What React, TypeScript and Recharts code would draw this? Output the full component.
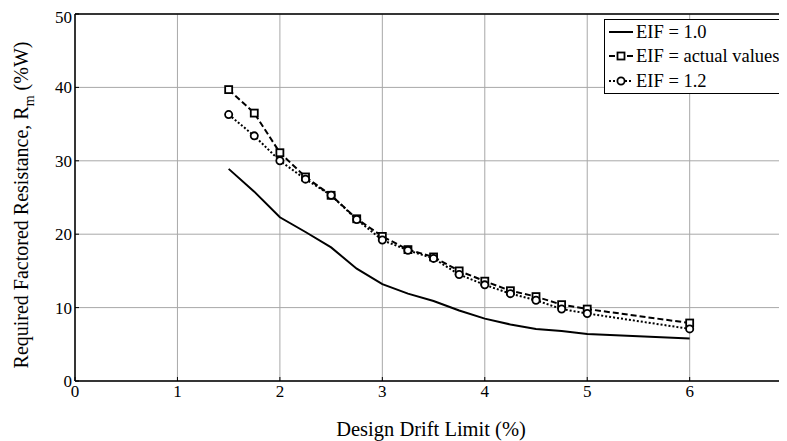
import React from 'react';
import { LineChart, Line, XAxis, YAxis, CartesianGrid, ReferenceLine, Legend, Label } from 'recharts';

const drift = [1.5, 1.75, 2, 2.25, 2.5, 2.75, 3, 3.25, 3.5, 3.75, 4, 4.25, 4.5, 4.75, 5, 6];
const eif10 = [28.9, 25.8, 22.3, 20.3, 18.2, 15.3, 13.2, 11.9, 10.9, 9.6, 8.5, 7.7, 7.1, 6.8, 6.4, 5.8];
const eifActual = [39.7, 36.5, 31.1, 27.8, 25.3, 22.1, 19.7, 17.9, 16.9, 15.0, 13.6, 12.3, 11.5, 10.4, 9.8, 7.9];
const eif12 = [36.3, 33.4, 30.0, 27.5, 25.3, 22.0, 19.2, 17.8, 16.7, 14.5, 13.1, 11.9, 11.0, 9.8, 9.2, 7.1];
const xTicks = [0, 1, 2, 3, 4, 5, 6];
const yTicks = [0, 10, 20, 30, 40, 50];
const seriesNames = ['EIF = 1.0', 'EIF = actual values', 'EIF = 1.2'];
const xTitle = 'Design Drift Limit (%)';

const data = drift.map((d, i) => ({ x: d, a: eif10[i], b: eifActual[i], c: eif12[i] }));

const FONT = '"Liberation Serif", "Times New Roman", serif';

const SquareDot = (props: any) => {
  const { cx, cy, index } = props;
  if (cx == null || cy == null) return <g key={`s${index}`} />;
  return (
    <rect key={`s${index}`} x={cx - 3.5} y={cy - 3.5} width={7} height={7} fill="white" stroke="black" strokeWidth={1.8} strokeDasharray="none" />
  );
};

const CircleDot = (props: any) => {
  const { cx, cy, index } = props;
  if (cx == null || cy == null) return <g key={`c${index}`} />;
  return <circle key={`c${index}`} cx={cx} cy={cy} r={3.6} fill="white" stroke="black" strokeWidth={1.8} strokeDasharray="none" />;
};

const XTick = (props: any) => {
  const { x, y, payload } = props;
  return (
    <text x={x} y={y} dy="0.71em" textAnchor="middle" style={{ fontFamily: FONT }} fontSize={17} fill="black">
      {payload.value}
    </text>
  );
};

const YTick = (props: any) => {
  const { x, y, payload } = props;
  return (
    <text x={x} y={y} dy="0.355em" textAnchor="end" style={{ fontFamily: FONT }} fontSize={17} fill="black">
      {payload.value}
    </text>
  );
};

const YTitle = () => (
  <text transform="translate(20,197) rotate(-90)" textAnchor="middle" style={{ fontFamily: FONT }} fontSize={20} fill="black">
    Required Factored Resistance, R<tspan fontSize={14} dy={6}>m</tspan>
    <tspan dy={-6}> (%W)</tspan>
  </text>
);

const LegendBox = () => {
  const rows = [
    { name: seriesNames[0], dash: 'none', marker: null },
    { name: seriesNames[1], dash: '6 3', marker: 'square' },
    { name: seriesNames[2], dash: '2 2', marker: 'circle' },
  ];
  return (
    <div style={{ border: '1.5px solid black', background: 'white', width: 179, height: 73, boxSizing: 'content-box' }}>
      {rows.map((r, i) => (
        <div key={i} style={{ display: 'flex', alignItems: 'center', height: 24.3, fontFamily: FONT, fontSize: 18.5, lineHeight: '24px', color: 'black', whiteSpace: 'nowrap' }}>
          <svg width={28} height={20} style={{ marginLeft: 2, flex: 'none' }}>
            <line x1={2} y1={10} x2={26} y2={10} stroke="black" strokeWidth={2} strokeDasharray={r.dash} />
            {r.marker === 'square' && <rect x={10.5} y={6.5} width={7} height={7} fill="white" stroke="black" strokeWidth={1.8} />}
            {r.marker === 'circle' && <circle cx={14} cy={10} r={3.6} fill="white" stroke="black" strokeWidth={1.8} />}
          </svg>
          <span style={{ marginLeft: 1 }}>{r.name}</span>
        </div>
      ))}
    </div>
  );
};

export default function App() {
  return (
    <div style={{ width: 779, height: 433, position: 'relative', fontFamily: FONT }}>
      <LineChart width={779} height={433} data={data} margin={{ top: 6, right: 0, left: 7, bottom: 30 }}>
        <CartesianGrid stroke="#a8a8a8" strokeWidth={1} />
        <XAxis
          dataKey="x"
          type="number"
          domain={[0, 6.95]}
          ticks={xTicks}
          allowDataOverflow
          height={30}
          axisLine={{ stroke: 'black', strokeWidth: 1.5 }}
          tickLine={{ stroke: 'black' }}
          tickSize={-4}
          tickMargin={8}
          tick={<XTick />}
        >
          <Label value={xTitle} position="bottom" offset={10} style={{ fontFamily: FONT, fontSize: 20.5, fill: 'black' }} />
        </XAxis>
        <YAxis
          type="number"
          domain={[0, 50]}
          ticks={yTicks}
          width={60}
          axisLine={{ stroke: 'black', strokeWidth: 1.5 }}
          tickLine={{ stroke: 'black' }}
          tickSize={-4}
          tickMargin={7}
          tick={<YTick />}
        >
          <Label content={<YTitle />} />
        </YAxis>
        <ReferenceLine y={50} stroke="black" strokeWidth={1.5} />
        <Line dataKey="a" name={seriesNames[0]} stroke="black" strokeWidth={2} dot={false} isAnimationActive={false} />
        <Line dataKey="b" name={seriesNames[1]} stroke="black" strokeWidth={2} strokeDasharray="6 3" dot={<SquareDot />} isAnimationActive={false} />
        <Line dataKey="c" name={seriesNames[2]} stroke="black" strokeWidth={2} strokeDasharray="2 2" dot={<CircleDot />} isAnimationActive={false} />
        <Legend
          content={<LegendBox />}
          layout="vertical"
          align="center"
          verticalAlign="middle"
          wrapperStyle={{ position: 'absolute', left: 596, top: 11, width: 182, height: 76 }}
        />
      </LineChart>
    </div>
  );
}
